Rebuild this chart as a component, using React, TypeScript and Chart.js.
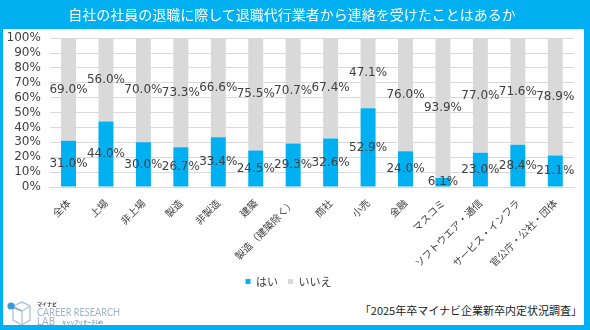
import React, { useEffect, useRef } from "react";
import { Chart, registerables } from "chart.js";

Chart.register(...registerables);

const categories = [
  "全体",
  "上場",
  "非上場",
  "製造",
  "非製造",
  "建築",
  "製造（建築除く）",
  "商社",
  "小売",
  "金融",
  "マスコミ",
  "ソフトウエア・通信",
  "サービス・インフラ",
  "官公庁・公社・団体",
];
const yesValues = [31.0, 44.0, 30.0, 26.7, 33.4, 24.5, 29.3, 32.6, 52.9, 24.0, 6.1, 23.0, 28.4, 21.1];
const noValues = [69.0, 56.0, 70.0, 73.3, 66.6, 75.5, 70.7, 67.4, 47.1, 76.0, 93.9, 77.0, 71.6, 78.9];
const yTicks = [0, 10, 20, 30, 40, 50, 60, 70, 80, 90, 100];
const seriesNames = ["はい", "いいえ"];

const BLUE = "#00B0F0";
const GRAY = "#D9D9D9";
const TEXT = "#404040";
const NUM_FONT = "'DejaVu Sans', 'Noto Sans CJK JP', sans-serif";
const JP_FONT = "'Noto Sans CJK JP', 'DejaVu Sans', sans-serif";

const valueLabels = {
  id: "valueLabels",
  afterDatasetsDraw(chart: any) {
    const ctx = chart.ctx;
    ctx.save();
    ctx.font = `12px ${NUM_FONT}`;
    ctx.fillStyle = TEXT;
    ctx.textAlign = "center";
    ctx.textBaseline = "middle";
    chart.data.datasets.forEach((ds: any, di: number) => {
      const meta = chart.getDatasetMeta(di);
      meta.data.forEach((bar: any, i: number) => {
        const v = ds.data[i];
        const cy = (bar.y + bar.base) / 2;
        ctx.fillText(v.toFixed(1) + "%", bar.x, cy);
      });
    });
    ctx.restore();
  },
};

function Logo() {
  const stroke = "#b3c6d6";
  return (
    <svg
      width="150"
      height="37"
      viewBox="0 0 150 37"
      style={{ position: "absolute", left: 0, top: 288 }}
    >
      <polygon points="22,14 30,18 30,32 22,37 13,32 13,18" fill="none" stroke={stroke} strokeWidth="1.4" />
      <polyline points="13,18 22,23 30,18" fill="none" stroke={stroke} strokeWidth="1.4" />
      <line x1="22" y1="23" x2="22" y2="37" stroke={stroke} strokeWidth="1.4" />
      <line x1="12" y1="19" x2="22" y2="23" stroke="#8fb3cc" strokeWidth="1.4" />
      <circle cx="11" cy="18" r="3.6" fill="#3a9ad9" />
      <text x="37" y="18" fontSize="5" fontWeight="700" fill="#333" fontFamily={JP_FONT}>マイナビ</text>
      <text x="37" y="28" fontSize="10.5" fill="#9fb4c6" fontFamily="'Lato', 'DejaVu Sans', sans-serif" textLength="83" lengthAdjust="spacingAndGlyphs">CAREER RESEARCH</text>
      <text x="37" y="37" fontSize="10.5" fill="#9fb4c6" fontFamily="'Lato', 'DejaVu Sans', sans-serif" textLength="18" lengthAdjust="spacingAndGlyphs">LAB</text>
      <text x="62" y="35.5" fontSize="5" fontWeight="700" fill="#7b97b5" fontFamily={JP_FONT} textLength="41" lengthAdjust="spacingAndGlyphs">キャリアリサーチLab</text>
    </svg>
  );
}

export default function App() {
  const canvasRef = useRef<HTMLCanvasElement | null>(null);

  useEffect(() => {
    if (!canvasRef.current) return;
    const chart = new Chart(canvasRef.current, {
      type: "bar",
      data: {
        labels: categories,
        datasets: [
          { label: seriesNames[0], data: yesValues, backgroundColor: BLUE, barPercentage: 0.4, categoryPercentage: 1 },
          { label: seriesNames[1], data: noValues, backgroundColor: GRAY, barPercentage: 0.4, categoryPercentage: 1 },
        ],
      },
      options: {
        animation: false,
        responsive: false,
        maintainAspectRatio: false,
        layout: { padding: { top: 0, right: 10, left: 0, bottom: 0 } },
        plugins: {
          legend: {
            position: "bottom",
            labels: {
              boxWidth: 5,
              boxHeight: 5,
              padding: 10,
              color: TEXT,
              font: { size: 11, family: JP_FONT },
            },
          },
          tooltip: { enabled: false },
        },
        scales: {
          x: {
            stacked: true,
            grid: { display: false },
            border: { color: GRAY },
            ticks: {
              autoSkip: false,
              maxRotation: 45,
              minRotation: 45,
              color: TEXT,
              font: { size: 10, family: JP_FONT },
              padding: 2,
            },
            afterFit: (scale: any) => {
              scale.height = 79;
            },
          },
          y: {
            stacked: true,
            min: 0,
            max: 100,
            afterBuildTicks: (scale: any) => {
              scale.ticks = yTicks.map((v) => ({ value: v }));
            },
            grid: { color: GRAY, drawTicks: false },
            border: { display: false },
            ticks: {
              autoSkip: false,
              color: TEXT,
              font: { size: 12, family: NUM_FONT },
              padding: 9,
              callback: (v: any) => v + "%",
            },
            afterFit: (scale: any) => {
              scale.width = 46.8;
            },
          },
        },
      },
      plugins: [valueLabels],
    });
    return () => chart.destroy();
  }, []);

  return (
    <div style={{ position: "fixed", left: 0, top: 0, width: 590, height: 330, background: "#fff", overflow: "hidden" }}>
      <canvas ref={canvasRef} width={581} height={275} style={{ position: "absolute", left: 3, top: 22, width: 581, height: 275 }} />
      <div style={{ position: "absolute", left: 0, top: 0, width: 590, height: 29, background: BLUE }} />
      <div style={{ position: "absolute", left: 0, top: 0, width: 3, height: 330, background: BLUE }} />
      <div style={{ position: "absolute", left: 584, top: 0, width: 6, height: 330, background: BLUE }} />
      <div style={{ position: "absolute", left: 0, top: 325, width: 590, height: 5, background: BLUE }} />
      <div style={{ position: "absolute", left: 0, top: 0, width: 584, height: 29, color: "#fff", fontFamily: JP_FONT, fontSize: 14, lineHeight: "29px", textAlign: "center", whiteSpace: "nowrap" }}>
        自社の社員の退職に際して退職代行業者から連絡を受けたことはあるか
      </div>
      <div style={{ position: "absolute", right: 8, top: 302, fontFamily: JP_FONT, fontSize: 11, color: "#222", lineHeight: "16px", whiteSpace: "nowrap" }}>
        「2025年卒マイナビ企業新卒内定状況調査」
      </div>
      <Logo />
    </div>
  );
}
